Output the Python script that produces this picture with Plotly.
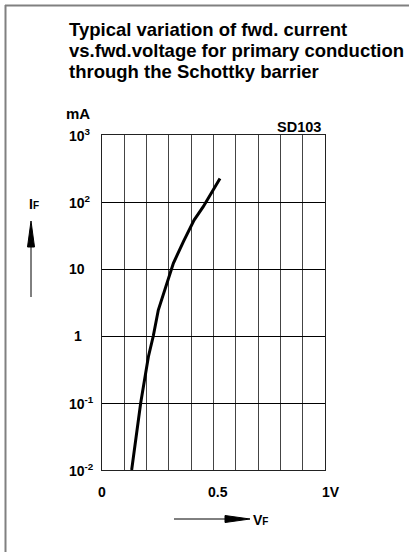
import math
import plotly.graph_objects as go

# ---- data ----
vf_volts = [0.133, 0.1735, 0.208, 0.230, 0.2525, 0.300, 0.320, 0.365, 0.413, 0.454, 0.529]
if_log10_mA = [-2.0, -1.0, -0.31, 0.0, 0.388, 0.885, 1.085, 1.41, 1.73, 1.93, 2.35]
if_mA = [10 ** v for v in if_log10_mA]

y_tick_vals = [1000, 100, 10, 1, 0.1, 0.01]
y_tick_text = ["10<sup>3</sup>", "10<sup>2</sup>", "10", "1", "10<sup>-1</sup>", "10<sup>-2</sup>"]
x_tick_vals = [0, 0.5, 1]
x_tick_text = ["0", "0.5", "1V"]
title_lines = ["Typical variation of fwd. current",
               "vs.fwd.voltage for primary conduction",
               "through the Schottky barrier"]
part_label = "SD103"
unit_label = "mA"

W, H = 409, 552
L, R, T, B = 102, 325, 135, 470
FONT = "Liberation Sans, Arial, sans-serif"


def px(X):
    return (X - L) / (R - L)


def py(Y):
    return (B - Y) / (B - T)


fig = go.Figure()
fig.add_trace(go.Scatter(x=vf_volts, y=if_mA, mode="lines",
                         line=dict(color="black", width=3),
                         hoverinfo="skip", showlegend=False))

fig.update_xaxes(range=[0, 1], dtick=0.1, tick0=0, showgrid=True, gridcolor="#444",
                 gridwidth=1, showticklabels=False, ticks="", zeroline=False,
                 showline=True, linecolor="#222", linewidth=1, mirror=True)
fig.update_yaxes(type="log", range=[-2, 3], dtick=1, showgrid=True, gridcolor="#000",
                 gridwidth=1, showticklabels=False, ticks="", zeroline=False,
                 showline=True, linecolor="#222", linewidth=1, mirror=True)

ann = []
# title lines
for i, t in enumerate(title_lines):
    ann.append(dict(x=px(67), y=py(29 + i * 21.5), xref="paper", yref="paper",
                    text="<b>" + t + "</b>", showarrow=False, xanchor="left",
                    yanchor="middle", font=dict(family=FONT, size=18.5, color="black")))
# y tick labels
for v, t in zip(y_tick_vals, y_tick_text):
    lv = math.log10(v)
    if t == "1":
        ann.append(dict(x=px(84), y=lv, xref="paper", yref="y", text="<b>" + t + "</b>",
                        showarrow=False, xanchor="right", yanchor="middle",
                        font=dict(family=FONT, size=14, color="black")))
    else:
        ann.append(dict(x=px(67), y=lv, xref="paper", yref="y", text="<b>" + t + "</b>",
                        showarrow=False, xanchor="left", yanchor="middle",
                        font=dict(family=FONT, size=14, color="black")))
# x tick labels
x_shift = {"0": 0, "0.5": 4, "1V": 6}
for v, t in zip(x_tick_vals, x_tick_text):
    ann.append(dict(x=v, y=py(492), xref="x", yref="paper", text="<b>" + t + "</b>",
                    showarrow=False, xanchor="center", yanchor="middle", xshift=x_shift[t],
                    font=dict(family=FONT, size=14, color="black")))
# unit, part
ann.append(dict(x=px(64), y=py(114), xref="paper", yref="paper", text="<b>" + unit_label + "</b>",
                showarrow=False, xanchor="left", yanchor="middle",
                font=dict(family=FONT, size=15, color="black")))
ann.append(dict(x=px(323), y=py(127), xref="paper", yref="paper", text="<b>" + part_label + "</b>",
                showarrow=False, xanchor="right", yanchor="middle",
                font=dict(family=FONT, size=14.5, color="black")))
# axis names
ann.append(dict(x=px(27), y=py(204), xref="paper", yref="paper",
                text="<b>I<span style='font-size:10px'>F</span></b>",
                showarrow=False, xanchor="left", yanchor="middle",
                font=dict(family=FONT, size=14, color="black")))
ann.append(dict(x=px(251), y=py(520), xref="paper", yref="paper",
                text="<b>V<span style='font-size:10px'>F</span></b>",
                showarrow=False, xanchor="left", yanchor="middle",
                font=dict(family=FONT, size=14, color="black")))

shapes = []
# frame (top and left)
shapes.append(dict(type="line", xref="paper", yref="paper", x0=px(5), x1=px(409), y0=py(5.5), y1=py(5.5),
                   line=dict(color="#808080", width=2)))
shapes.append(dict(type="line", xref="paper", yref="paper", x0=px(5.5), x1=px(5.5), y0=py(5), y1=py(552),
                   line=dict(color="#808080", width=2)))
# IF arrow
shapes.append(dict(type="line", xref="paper", yref="paper", x0=px(31), x1=px(31), y0=py(297), y1=py(240),
                   line=dict(color="black", width=1)))
shapes.append(dict(type="path", xref="paper", yref="paper",
                   path=f"M {px(31)} {py(221)} L {px(34.5)} {py(247)} L {px(27.5)} {py(247)} Z",
                   fillcolor="black", line=dict(color="black", width=1)))
# VF arrow
shapes.append(dict(type="line", xref="paper", yref="paper", x0=px(174), x1=px(228), y0=py(519), y1=py(519),
                   line=dict(color="black", width=1)))
shapes.append(dict(type="path", xref="paper", yref="paper",
                   path=f"M {px(250)} {py(519)} L {px(225)} {py(515.5)} L {px(225)} {py(522.5)} Z",
                   fillcolor="black", line=dict(color="black", width=1)))

fig.update_layout(width=W, height=H, margin=dict(l=L, r=W - R, t=T, b=H - B),
                  paper_bgcolor="white", plot_bgcolor="white",
                  annotations=ann, shapes=shapes, showlegend=False)

fig.write_html("out.html", config={"displayModeBar": False},
               post_script="document.body.style.margin='0';document.body.style.overflow='hidden';")
